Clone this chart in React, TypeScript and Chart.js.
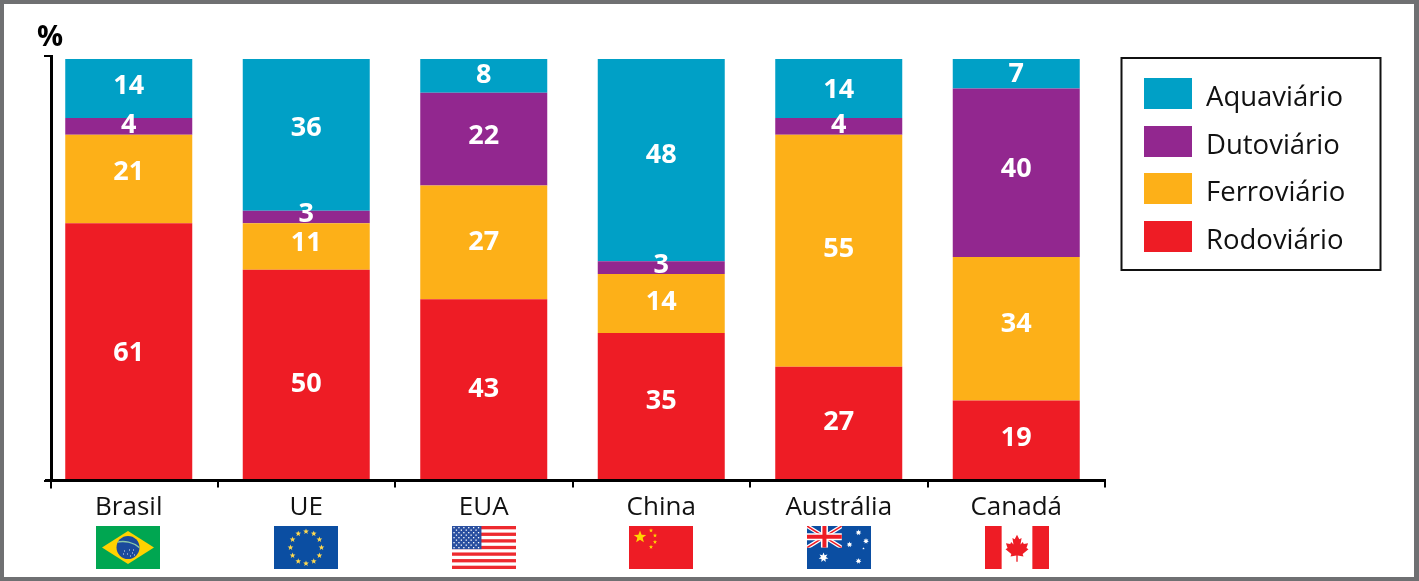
import React, { useEffect, useRef } from "react";
import { Chart, registerables } from "chart.js";

Chart.register(...registerables);

const categories = ["Brasil", "UE", "EUA", "China", "Austrália", "Canadá"];
const rodoviario = [61, 50, 43, 35, 27, 19];
const ferroviario = [21, 11, 27, 14, 55, 34];
const dutoviario = [4, 3, 22, 3, 4, 40];
const aquaviario = [14, 36, 8, 48, 14, 7];

const RED = "#EE1C25";
const ORANGE = "#FDB018";
const PURPLE = "#92278F";
const AQUA = "#00A0C6";
const FLAG_BLUE = "#0B4EA2";
const FONT = '"Open Sans", "Noto Sans", sans-serif';

// small vertical nudges of the value labels, one row per series (pixels from the segment centre)
const labelNudges = [
  [2, 9.5, 0, -5, -0.5, -1.5],
  [-6.5, -3, -0.5, -1, -1, -4],
  [-1, -2.3, -2.5, -2, -1, -3],
  [-2, -6.5, -1, -4.5, 2, 1],
];

type Ctx = CanvasRenderingContext2D;

function star(c: Ctx, x: number, y: number, r: number, color: string, points = 5, inner = 0.42) {
  c.fillStyle = color;
  c.beginPath();
  for (let i = 0; i < points * 2; i++) {
    const rad = i % 2 === 0 ? r : r * inner;
    const a = -Math.PI / 2 + (i * Math.PI) / points;
    const px = x + rad * Math.cos(a);
    const py = y + rad * Math.sin(a);
    if (i === 0) c.moveTo(px, py);
    else c.lineTo(px, py);
  }
  c.closePath();
  c.fill();
}

function drawBrazil(c: Ctx, x: number, y: number, w: number, h: number) {
  c.fillStyle = "#00A651";
  c.fillRect(x, y, w, h);
  c.fillStyle = "#FFD200";
  c.beginPath();
  c.moveTo(x + 6, y + h / 2);
  c.lineTo(x + w / 2, y + 5);
  c.lineTo(x + w - 6, y + h / 2);
  c.lineTo(x + w / 2, y + h - 5);
  c.closePath();
  c.fill();
  c.fillStyle = "#1B4A9C";
  c.beginPath();
  c.arc(x + w / 2, y + h / 2, 11.5, 0, Math.PI * 2);
  c.fill();
  c.save();
  c.beginPath();
  c.arc(x + w / 2, y + h / 2, 11.5, 0, Math.PI * 2);
  c.clip();
  c.strokeStyle = "#8CC9A8";
  c.lineWidth = 1.4;
  c.beginPath();
  c.arc(x + w / 2 - 5, y + h / 2 + 19, 25, -2, -0.7);
  c.stroke();
  c.restore();
  c.fillStyle = "#DDE6F4";
  [[-4, 3], [-1, 6], [1, 2], [4, 5], [6, 7], [-5, 6], [2, 8], [5, 2]].forEach(([dx, dy]) =>
    c.fillRect(x + w / 2 + dx, y + h / 2 + dy, 1, 1)
  );
}

function drawEU(c: Ctx, x: number, y: number, w: number, h: number) {
  c.fillStyle = FLAG_BLUE;
  c.fillRect(x, y, w, h);
  for (let i = 0; i < 12; i++) {
    const a = (i * Math.PI) / 6;
    star(c, x + w / 2 + 15.5 * Math.sin(a), y + h / 2 - 16 * Math.cos(a), 3, "#FFD94F");
  }
}

function drawUSA(c: Ctx, x: number, y: number, w: number, h: number) {
  c.fillStyle = "#FFFFFF";
  c.fillRect(x, y, w, h);
  const s = h / 13;
  c.fillStyle = "#EE2A2F";
  for (let i = 0; i < 13; i += 2) c.fillRect(x, y + i * s, w, s);
  c.fillStyle = "#2A4FA0";
  const cw = w * 0.46;
  const ch = s * 7;
  c.fillRect(x, y, cw, ch);
  c.fillStyle = "#FFFFFF";
  for (let row = 0; row < 9; row++) {
    const n = row % 2 === 0 ? 6 : 5;
    for (let col = 0; col < n; col++) {
      const px = x + (row % 2 === 0 ? 2 : 4.4) + col * 4.9;
      c.fillRect(px - 0.6, y + 1.6 + row * 2.5 - 0.6, 1.3, 1.3);
    }
  }
}

function drawChina(c: Ctx, x: number, y: number, w: number, h: number) {
  c.fillStyle = RED;
  c.fillRect(x, y, w, h);
  star(c, x + 11, y + 11, 6.6, "#FFD500");
  star(c, x + 22, y + 4.5, 2.2, "#FFD500");
  star(c, x + 26, y + 9.5, 2.2, "#FFD500");
  star(c, x + 26, y + 16, 2.2, "#FFD500");
  star(c, x + 22, y + 21, 2.2, "#FFD500");
}

function drawAustralia(c: Ctx, x: number, y: number, w: number, h: number) {
  c.fillStyle = FLAG_BLUE;
  c.fillRect(x, y, w, h);
  const uw = w * 0.545;
  const uh = h * 0.505;
  c.save();
  c.beginPath();
  c.rect(x, y, uw, uh);
  c.clip();
  const line = (x1: number, y1: number, x2: number, y2: number, lw: number, col: string) => {
    c.strokeStyle = col;
    c.lineWidth = lw;
    c.beginPath();
    c.moveTo(x1, y1);
    c.lineTo(x2, y2);
    c.stroke();
  };
  line(x, y, x + uw, y + uh, 4, "#FFFFFF");
  line(x + uw, y, x, y + uh, 4, "#FFFFFF");
  line(x, y, x + uw, y + uh, 1.5, RED);
  line(x + uw, y, x, y + uh, 1.5, RED);
  line(x + uw / 2, y, x + uw / 2, y + uh, 7, "#FFFFFF");
  line(x, y + uh / 2, x + uw, y + uh / 2, 7, "#FFFFFF");
  line(x + uw / 2, y, x + uw / 2, y + uh, 4, RED);
  line(x, y + uh / 2, x + uw, y + uh / 2, 4, RED);
  c.restore();
  star(c, x + 16.5, y + 31.5, 5, "#FFFFFF", 7, 0.5);
  star(c, x + 51.5, y + 6.5, 3, "#FFFFFF", 7, 0.5);
  star(c, x + 42.5, y + 18.5, 3, "#FFFFFF", 7, 0.5);
  star(c, x + 59, y + 15, 3, "#FFFFFF", 7, 0.5);
  star(c, x + 56.5, y + 22.5, 1.2, "#FFFFFF", 5, 0.5);
  star(c, x + 51.5, y + 35, 3, "#FFFFFF", 7, 0.5);
}

const leafHalf: [number, number][] = [
  [0, -1], [0.17, -0.68], [0.34, -0.77], [0.26, -0.28], [0.43, -0.47], [0.5, -0.32],
  [0.82, -0.38], [0.7, -0.02], [0.85, 0.06], [0.42, 0.42], [0.48, 0.6], [0.05, 0.52], [0.05, 1],
];

function drawCanada(c: Ctx, x: number, y: number, w: number, h: number) {
  c.fillStyle = "#FFFFFF";
  c.fillRect(x, y, w, h);
  c.fillStyle = RED;
  c.fillRect(x, y, w * 0.26, h);
  c.fillRect(x + w * 0.74, y, w * 0.26, h);
  const cx = x + w / 2;
  const cy = y + h * 0.52;
  const r = 13.5;
  c.beginPath();
  leafHalf.forEach(([a, b], i) => {
    if (i === 0) c.moveTo(cx + a * r, cy + b * r);
    else c.lineTo(cx + a * r, cy + b * r);
  });
  [...leafHalf].reverse().forEach(([a, b]) => c.lineTo(cx - a * r, cy + b * r));
  c.closePath();
  c.fill();
}

const flags = [drawBrazil, drawEU, drawUSA, drawChina, drawAustralia, drawCanada];

const decorations = {
  id: "decorations",
  afterLayout(chart: any) {
    if (chart.titleBlock) {
      chart.titleBlock.left = 37;
    }
  },
  afterDatasetsDraw(chart: any) {
    const c: Ctx = chart.ctx;
    c.save();
    c.fillStyle = "#FFFFFF";
    c.font = `700 27px ${FONT}`;
    c.textAlign = "center";
    c.textBaseline = "middle";
    chart.data.datasets.forEach((ds: any, i: number) => {
      chart.getDatasetMeta(i).data.forEach((el: any, j: number) => {
        c.fillText(String(ds.data[j]), el.x, (el.y + el.base) / 2 + labelNudges[i][j]);
      });
    });
    c.restore();
  },
  afterDraw(chart: any) {
    const c: Ctx = chart.ctx;
    const xs = chart.scales.x;
    const ys = chart.scales.y;
    const y0 = ys.getPixelForValue(0);
    c.save();
    // x axis line and the tick beneath the y axis
    c.strokeStyle = "#000000";
    c.lineWidth = 3;
    c.beginPath();
    c.moveTo(45, y0);
    c.lineTo(xs.right + 1, y0);
    c.stroke();
    c.lineWidth = 2;
    c.beginPath();
    c.moveTo(51, y0);
    c.lineTo(51, y0 + 8);
    c.stroke();
    // legend: frame, swatches and names, read from the datasets (last series first)
    c.lineWidth = 2;
    c.strokeStyle = "#111111";
    c.strokeRect(1121.5, 58, 259, 212);
    c.font = `400 27.5px ${FONT}`;
    c.textAlign = "left";
    c.textBaseline = "middle";
    [...chart.data.datasets].reverse().forEach((ds: any, i: number) => {
      const top = 78 + i * 47.7;
      c.fillStyle = ds.backgroundColor;
      c.fillRect(1144, Math.round(top), 48, 31);
      c.fillStyle = "#111111";
      c.fillText(ds.label, 1206, top + 20);
    });
    // flags
    categories.forEach((_, i) => {
      const cx = xs.getPixelForTick(i) - 0.75 + i * 0.3;
      flags[i](c, Math.round(cx - 32), 526, 64, 43);
    });
    c.restore();
  },
};

export default function App() {
  const ref = useRef<HTMLCanvasElement>(null);
  useEffect(() => {
    if (!ref.current) return;
    const chart = new Chart(ref.current, {
      type: "bar",
      data: {
        labels: categories,
        datasets: [
          { label: "Rodoviário", data: rodoviario, backgroundColor: RED },
          { label: "Ferroviário", data: ferroviario, backgroundColor: ORANGE },
          { label: "Dutoviário", data: dutoviario, backgroundColor: PURPLE },
          { label: "Aquaviário", data: aquaviario, backgroundColor: AQUA },
        ],
      },
      plugins: [decorations],
      options: {
        animation: false,
        responsive: false,
        devicePixelRatio: 1,
        layout: { padding: { left: 40, right: 314, top: 23, bottom: 0 } },
        datasets: { bar: { barPercentage: 0.7155, categoryPercentage: 1, borderWidth: 0 } },
        plugins: {
          tooltip: { enabled: false },
          legend: { display: false },
          title: {
            display: true,
            text: "%",
            align: "start",
            color: "#000000",
            font: { family: FONT, size: 29, weight: "bold", lineHeight: 1 },
            padding: { top: 0, bottom: 4 },
          },
        },
        scales: {
          x: {
            type: "category",
            stacked: true,
            offset: true,
            afterFit: (s: any) => {
              s.height = 100.5;
            },
            border: { display: false },
            grid: {
              drawOnChartArea: false,
              drawTicks: true,
              tickLength: 7,
              offset: true,
              lineWidth: 2,
              tickColor: (ctx: any) => (ctx.index === 0 ? "transparent" : "#000000"),
              color: "#000000",
            },
            ticks: {
              color: "#111111",
              padding: 4,
              maxRotation: 0,
              font: { family: FONT, size: 26 },
            },
          },
          y: {
            axis: "y",
            stacked: true,
            min: 0,
            max: 100.7,
            position: { x: -0.435 },
            afterBuildTicks: (s: any) => {
              s.ticks = [{ value: 0 }, { value: s.max }];
            },
            border: { display: true, color: "#000000", width: 3 },
            grid: { drawOnChartArea: false, drawTicks: true, tickLength: 6, lineWidth: 2, tickColor: "#000000" },
            ticks: { display: false },
          },
        },
      },
    } as any);
    return () => chart.destroy();
  }, []);
  return (
    <div style={{ position: "fixed", left: 0, top: 0, width: 1419, height: 581, background: "#fff" }}>
      <canvas ref={ref} width={1419} height={581} style={{ display: "block", width: 1419, height: 581 }} />
      <div
        style={{
          position: "absolute",
          inset: 0,
          boxSizing: "border-box",
          borderStyle: "solid",
          borderColor: "#6F7072",
          borderWidth: "4px 5px 4px 4px",
          pointerEvents: "none",
        }}
      />
    </div>
  );
}
